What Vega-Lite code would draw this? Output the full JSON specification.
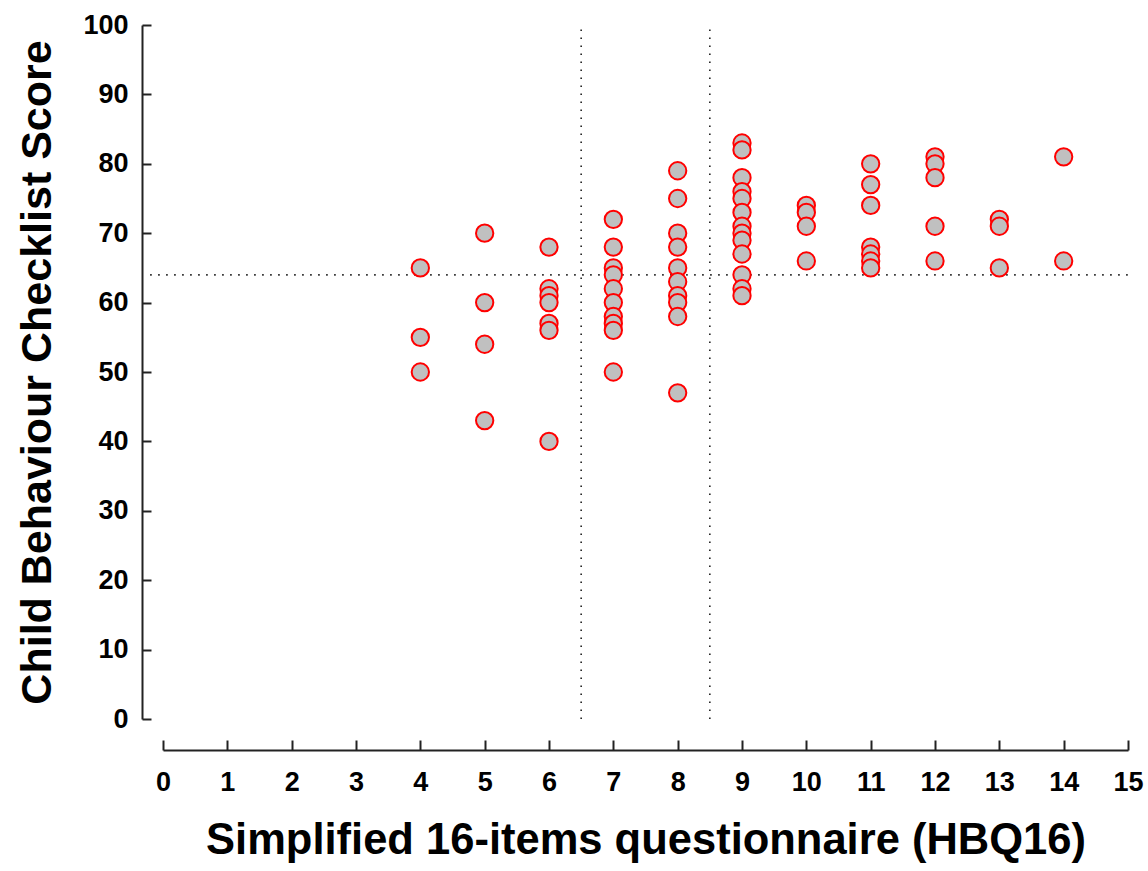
{
  "$schema": "https://vega.github.io/schema/vega-lite/v6.json",
  "width": 965,
  "height": 694,
  "autosize": "none",
  "padding": {"left": 163, "top": 25, "right": 20, "bottom": 152},
  "config": {"view": {"stroke": null}},
  "datasets": {
    "pts": [
      {"hbq": 4, "cbcl": 65}, {"hbq": 4, "cbcl": 55}, {"hbq": 4, "cbcl": 50},
      {"hbq": 5, "cbcl": 70}, {"hbq": 5, "cbcl": 60}, {"hbq": 5, "cbcl": 54}, {"hbq": 5, "cbcl": 43},
      {"hbq": 6, "cbcl": 68}, {"hbq": 6, "cbcl": 62}, {"hbq": 6, "cbcl": 61}, {"hbq": 6, "cbcl": 60}, {"hbq": 6, "cbcl": 57}, {"hbq": 6, "cbcl": 56}, {"hbq": 6, "cbcl": 40},
      {"hbq": 7, "cbcl": 72}, {"hbq": 7, "cbcl": 68}, {"hbq": 7, "cbcl": 65}, {"hbq": 7, "cbcl": 64}, {"hbq": 7, "cbcl": 62}, {"hbq": 7, "cbcl": 60}, {"hbq": 7, "cbcl": 58}, {"hbq": 7, "cbcl": 57}, {"hbq": 7, "cbcl": 56}, {"hbq": 7, "cbcl": 50},
      {"hbq": 8, "cbcl": 79}, {"hbq": 8, "cbcl": 75}, {"hbq": 8, "cbcl": 70}, {"hbq": 8, "cbcl": 68}, {"hbq": 8, "cbcl": 65}, {"hbq": 8, "cbcl": 63}, {"hbq": 8, "cbcl": 61}, {"hbq": 8, "cbcl": 60}, {"hbq": 8, "cbcl": 58}, {"hbq": 8, "cbcl": 47},
      {"hbq": 9, "cbcl": 83}, {"hbq": 9, "cbcl": 82}, {"hbq": 9, "cbcl": 78}, {"hbq": 9, "cbcl": 76}, {"hbq": 9, "cbcl": 75}, {"hbq": 9, "cbcl": 73}, {"hbq": 9, "cbcl": 71}, {"hbq": 9, "cbcl": 70}, {"hbq": 9, "cbcl": 69}, {"hbq": 9, "cbcl": 67}, {"hbq": 9, "cbcl": 64}, {"hbq": 9, "cbcl": 62}, {"hbq": 9, "cbcl": 61},
      {"hbq": 10, "cbcl": 74}, {"hbq": 10, "cbcl": 73}, {"hbq": 10, "cbcl": 71}, {"hbq": 10, "cbcl": 66},
      {"hbq": 11, "cbcl": 80}, {"hbq": 11, "cbcl": 77}, {"hbq": 11, "cbcl": 74}, {"hbq": 11, "cbcl": 68}, {"hbq": 11, "cbcl": 67}, {"hbq": 11, "cbcl": 66}, {"hbq": 11, "cbcl": 65},
      {"hbq": 12, "cbcl": 81}, {"hbq": 12, "cbcl": 80}, {"hbq": 12, "cbcl": 78}, {"hbq": 12, "cbcl": 71}, {"hbq": 12, "cbcl": 66},
      {"hbq": 13, "cbcl": 72}, {"hbq": 13, "cbcl": 71}, {"hbq": 13, "cbcl": 65},
      {"hbq": 14, "cbcl": 81}, {"hbq": 14, "cbcl": 66}
    ],
    "refs": [
      {"x": 6.5, "x2": 6.5, "y": 0, "y2": 100},
      {"x": 8.5, "x2": 8.5, "y": 0, "y2": 100},
      {"x": -0.2, "x2": 15.05, "y": 64, "y2": 64}
    ]
  },
  "layer": [
    {
      "data": {"name": "refs"},
      "mark": {"type": "rule", "color": "#222", "strokeWidth": 1.6, "strokeDash": [1.6, 6.4], "clip": false},
      "encoding": {
        "x": {"field": "x", "type": "quantitative", "scale": {"domain": [0, 15]}},
        "x2": {"field": "x2"},
        "y": {"field": "y", "type": "quantitative", "scale": {"domain": [0, 100]}},
        "y2": {"field": "y2"}
      }
    },
    {
      "data": {"name": "pts"},
      "mark": {"type": "point", "shape": "circle", "filled": false, "fill": "#c0c0c0", "fillOpacity": 1, "stroke": "#ff0000", "strokeWidth": 2, "strokeOpacity": 1, "size": 300, "opacity": 1},
      "encoding": {
        "x": {
          "field": "hbq", "type": "quantitative",
          "scale": {"domain": [0, 15], "nice": false},
          "axis": {
            "title": "Simplified 16-items questionnaire (HBQ16)",
            "values": [0, 1, 2, 3, 4, 5, 6, 7, 8, 9, 10, 11, 12, 13, 14, 15],
            "format": "d",
            "labelOverlap": false,
            "labelFlush": false,
            "offset": 31,
            "grid": false,
            "domainColor": "#222", "domainWidth": 2,
            "tickColor": "#222", "tickWidth": 2, "tickSize": -10,
            "labelFont": "Liberation Sans", "labelFontWeight": "bold", "labelFontSize": 27, "labelColor": "#000",
            "labelPadding": 29, "labelBaseline": "top",
            "titleFont": "Liberation Sans", "titleFontWeight": "bold", "titleFontSize": 43.5, "titleColor": "#000",
            "titleBaseline": "alphabetic", "titleY": 103
          }
        },
        "y": {
          "field": "cbcl", "type": "quantitative",
          "scale": {"domain": [0, 100], "nice": false},
          "axis": {
            "title": "Child Behaviour Checklist Score",
            "values": [0, 5, 10, 15, 20, 25, 30, 35, 40, 45, 50, 55, 60, 65, 70, 75, 80, 85, 90, 95, 100],
            "labelExpr": "datum.value % 10 === 0 ? datum.label : ''",
            "labelOverlap": false,
            "labelFlush": false,
            "offset": 21,
            "grid": false,
            "domainColor": "#222", "domainWidth": 2,
            "tickColor": "#222", "tickWidth": 2, "tickSize": -9,
            "encode": {"ticks": {"update": {"x2": {"signal": "datum.value % 10 === 0 ? 9 : 6"}}}},
            "labelFont": "Liberation Sans", "labelFontWeight": "bold", "labelFontSize": 27, "labelColor": "#000",
            "labelPadding": 23,
            "titleFont": "Liberation Sans", "titleFontWeight": "bold", "titleFontSize": 43, "titleColor": "#000",
            "titleAngle": -90, "titleAlign": "center", "titleBaseline": "alphabetic", "titleX": -92, "titleY": 347
          }
        }
      }
    }
  ]
}
